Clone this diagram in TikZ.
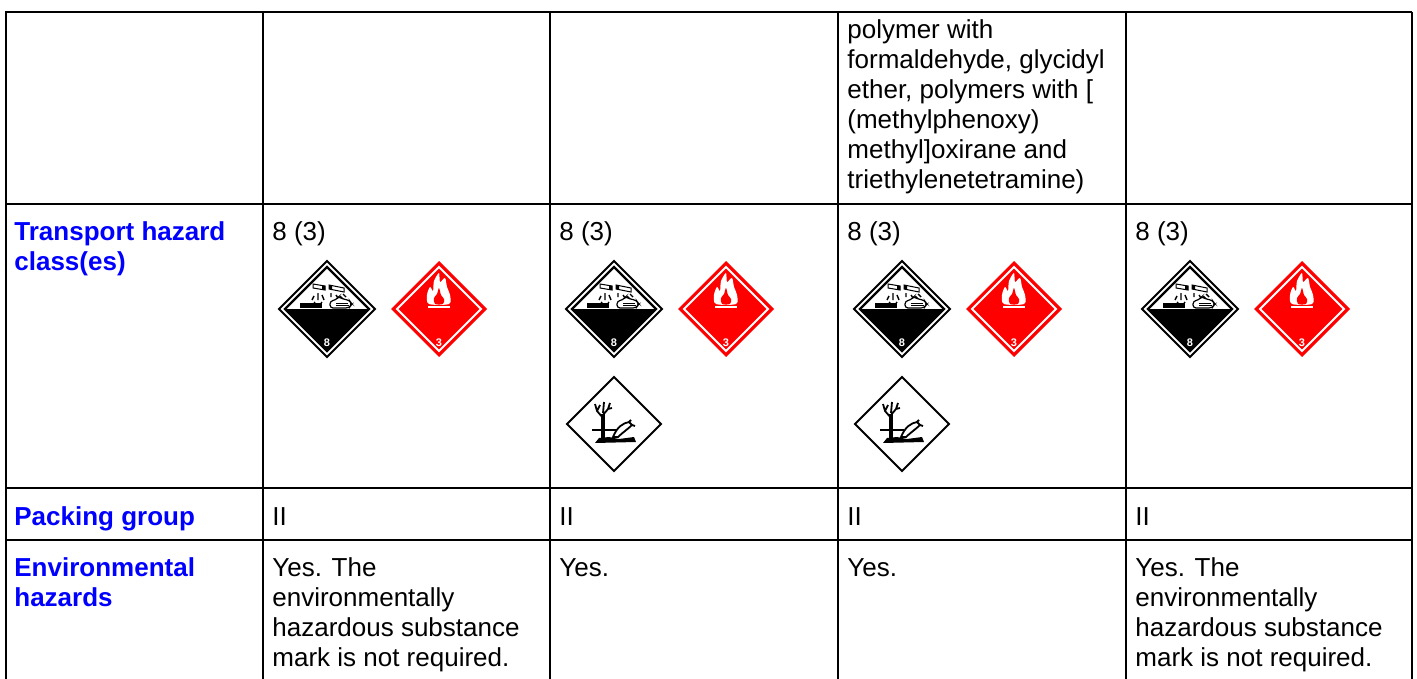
\documentclass[tikz,border=0pt]{standalone}
\usepackage{fontspec}
\setmainfont{Liberation Sans}
\newcommand{\cellfont}{\fontsize{13}{15}\selectfont}
\newcommand{\pictofont}{\fontsize{5.5}{6}\selectfont\bfseries}
\definecolor{hdblue}{RGB}{0,0,255}
\definecolor{hzred}{RGB}{255,0,0}
\tikzset{
  hdr/.style={anchor=base west, inner sep=0pt, align=left, font={\cellfont\bfseries}, text=hdblue},
  cell/.style={anchor=base west, inner sep=0pt, align=left, font=\cellfont},
  multi/.style={anchor=north west},
  hline/.style={line width=1.3pt},
  vline/.style={line width=1pt},
  corrosive/.pic={
    \draw[line width=1pt, fill=white] (0,-48) -- (48,0) -- (0,48) -- (-48,0) -- cycle;
    \draw[line width=1.1pt] (0,-42) -- (42,0) -- (0,42) -- (-42,0) -- cycle;
    \fill (-42,0) -- (42,0) -- (0,42) -- cycle;
    \draw[line width=0.5pt, fill=white] (-14,-25) -- (-2,-23) -- (-2,-19) -- (-14,-21) -- cycle;
    \fill (-5,-23.5) -- (-2,-23) -- (-2,-19) -- (-5,-19.5) -- cycle;
    \draw[line width=0.5pt, fill=white] (2,-24) -- (17,-21) -- (17,-17) -- (2,-20) -- cycle;
    \fill (2,-24) -- (5,-23.4) -- (5,-19.4) -- (2,-20) -- cycle;
    \draw[line width=0.7pt] (-9,-16) -- (-9,-9) (-13,-13) -- (-15,-9) (-5,-14) -- (-3,-9)
      (-12,-7) -- (-13,-6) (-6,-7) -- (-5,-6)
      (4,-16) -- (4,-12) (9,-14) -- (11,-11) (13,-13) -- (16,-10) (16,-15) -- (19,-12);
    \fill (-27,-6) rectangle (-5,-1);
    \draw[line width=0.6pt, fill=white, rounded corners=1.5pt] (3,-1) -- (3,-8) -- (9,-9) -- (12,-13) -- (15,-10)
      -- (22,-9) -- (25,-5) -- (22,-1) -- cycle;
    \draw[line width=0.4pt] (9,-6) -- (21,-6) (9,-3.5) -- (22,-3.5);
    \node[text=white, font=\pictofont, inner sep=0pt] at (0,34) {8};
  },
  flammable/.pic={
    \fill[hzred] (0,-48) -- (48,0) -- (0,48) -- (-48,0) -- cycle;
    \draw[white, line width=1pt] (0,-42) -- (42,0) -- (0,42) -- (-42,0) -- cycle;
    \fill[white] plot[smooth cycle] coordinates {(-10,-5) (-12,-14) (-9,-22) (-6,-18) (-5,-28)
      (0,-36) (1,-27) (6,-31) (8,-22) (11,-14) (10,-5)};
    \fill[hzred] plot[smooth cycle] coordinates {(-4,-5) (-5,-11) (-2,-15) (0,-21) (2,-14) (5,-10) (4,-5)};
    \fill[white] (-11,-3) rectangle (11,-1);
    \node[text=white, font=\pictofont, inner sep=0pt] at (0,34) {3};
  },
  envhaz/.pic={
    \draw[line width=1pt, fill=white] (0,-47) -- (47,0) -- (0,47) -- (-47,0) -- cycle;
    \draw[line width=1.8pt] (-11,16) -- (-11,-10);
    \draw[line width=0.9pt] (-11,-6) -- (-17,-13) -- (-19,-20) (-17,-13) -- (-14,-19)
      (-11,-9) -- (-6,-15) -- (-4,-21) (-11,-11) -- (-10,-22) (-6,-15) -- (-2,-16);
    \draw[line width=0.9pt] (-22,6) -- (2,6);
    \fill (-19,19) -- (-15,14) -- (-5,13) -- (5,15) -- (20,13) -- (22,18) -- cycle;
    \draw[line width=0.9pt, fill=white] (-1,13) .. controls (3,3) and (9,-1) .. (15,-2)
      -- (18,1) .. controls (14,5) and (8,9) .. (4,13) -- cycle;
    \draw[line width=0.9pt] (15,-2) -- (17,-4) (18,1) -- (21,2);
  }
}
\begin{document}
\begin{tikzpicture}[x=0.5pt, y=-0.5pt]
\useasboundingbox (0,0) rectangle (1417,679);
% grid
\foreach \gy in {12,204,488,540}
  \draw[hline] (5,\gy) -- (1412,\gy);
\foreach \gx in {5.5,263,550,838,1126,1412}
  \draw[vline] (\gx,12) -- (\gx,682);
% first column
\node[hdr, multi] (thc) at (14,221) {Transport hazard\\class(es)};
\node[hdr] (pg) at (14,525) {Packing group};
\node[hdr, multi] (envh) at (14,557) {Environmental\\hazards};
% top row
\node[cell, multi] (poly) at (847,19) {polymer with\\formaldehyde, glycidyl\\ether, polymers with [\\(methylphenoxy)\\methyl]oxirane and\\triethylenetetramine)};
% classes, pictograms, packing group
\foreach \cx [count=\i] in {263,550,838,1126} {
  \node[cell] (cls\i) at (\cx+9,241) {8 (3)};
  \pic at (\cx+64,309) {corrosive};
  \pic at (\cx+176,309) {flammable};
  \node[cell] (grp\i) at (\cx+9,525) {II};
}
\pic at (614,424) {envhaz};
\pic at (902,424) {envhaz};
% environmental hazards
\node[cell, multi] (env1) at (272,557) {Yes. The\\environmentally\\hazardous substance\\mark is not required.};
\node[cell] (env2) at (559,576) {Yes.};
\node[cell] (env3) at (847,576) {Yes.};
\node[cell, multi] (env4) at (1135,557) {Yes. The\\environmentally\\hazardous substance\\mark is not required.};
\end{tikzpicture}
\end{document}
